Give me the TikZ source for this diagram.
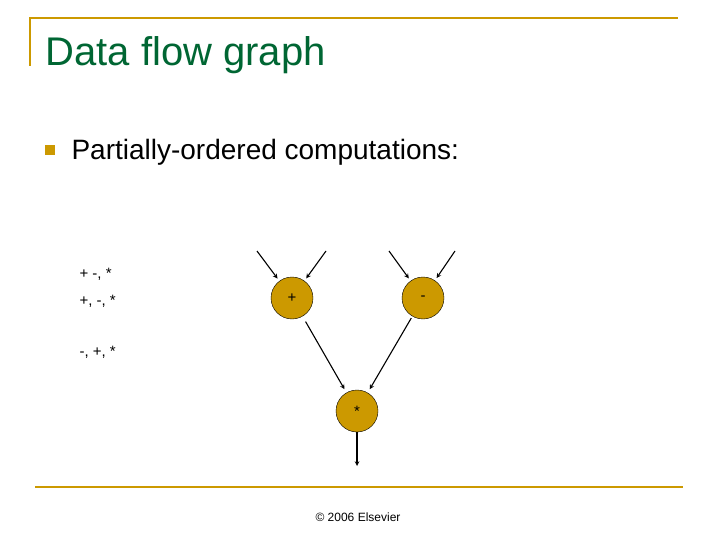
\documentclass[tikz,border=0pt]{standalone}
\usepackage{fontspec}
\setmainfont{Liberation Sans}
\usetikzlibrary{positioning}
\definecolor{gold}{RGB}{204, 153, 0}
\definecolor{opfill}{RGB}{204, 153, 0}
\definecolor{titlegreen}{RGB}{0, 102, 51}

\begin{document}
\begin{tikzpicture}[x=1pt, y=-1pt,
  op/.style={circle, draw=black, fill=opfill, minimum size=42pt, inner sep=0pt, font=\fontsize{15}{15}\selectfont},
  flow/.style={->, >=stealth, line width=1.1pt},
  order/.style={anchor=west, font=\fontsize{15}{15}\selectfont}]

  \useasboundingbox (0, 0) rectangle (720, 540);

  % frame
  \draw[gold, line width=2.5pt] (30, 66) -- (30, 18) -- (678, 18);
  \draw[gold, line width=2.5pt] (35, 487) -- (683, 487);

  \node[anchor=base west, text=titlegreen, font=\fontsize{40}{40}\selectfont] (title) at (42, 66) {Data flow graph};
  \fill[gold] (45, 145) rectangle (55, 155);
  \node[anchor=base west, font=\fontsize{28}{28}\selectfont] (bullet) at (68, 160) {Partially-ordered computations:};

  % orders
  \node[order] (o1) at (76, 274) {+ -, *};
  \node[order] (o2) at (76, 301) {+, -, *};
  \node[order] (o3) at (76, 352) {-, +, *};

  % graph
  \node[op] (plus) at (292, 298) {+};
  \node[op] (minus) at (423, 298) {-};
  \node[op] (times) at (357, 411) {*};

  \coordinate (a) at (257, 251);
  \coordinate (b) at (326, 251);
  \coordinate (c) at (389, 251);
  \coordinate (d) at (455, 251);
  \coordinate (out) at (357, 466);

  \draw[flow, shorten >=3pt] (a) -- (plus);
  \draw[flow, shorten >=3pt] (b) -- (plus);
  \draw[flow, shorten >=3pt] (c) -- (minus);
  \draw[flow, shorten >=3pt] (d) -- (minus);
  \draw[flow, shorten <=6pt, shorten >=4pt] (plus) -- (times);
  \draw[flow, shorten <=2pt, shorten >=4pt] (minus) -- (times);
  \draw[flow] (times) -- (out);

  \node[font=\fontsize{12}{12}\selectfont] (copy) at (358, 517) {\textcopyright{} 2006 Elsevier};
\end{tikzpicture}
\end{document}
